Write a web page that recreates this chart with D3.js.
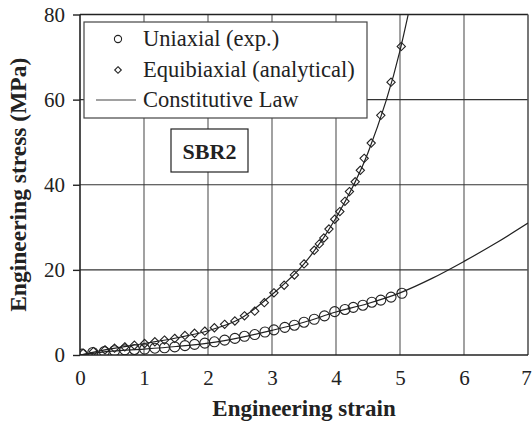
<!DOCTYPE html>
<html>
<head>
<meta charset="utf-8">
<script src="https://cdn.jsdelivr.net/npm/d3@7"></script>
</head>
<body style="margin:0">
<div id="chart"></div>
<script>
// uniaxial experiment (circles)
const uniStrain = [0.03, 0.2, 0.38, 0.54, 0.70, 0.85, 1.01, 1.17, 1.32, 1.48, 1.64, 1.79, 1.95, 2.10, 2.26, 2.42, 2.57, 2.73, 2.89, 3.03, 3.20, 3.35, 3.50, 3.66, 3.82, 3.98, 4.14, 4.27, 4.42, 4.56, 4.70, 4.86, 5.03];
const uniStress = [0.2, 0.6, 0.8, 1.0, 1.2, 1.3, 1.4, 1.6, 1.7, 1.9, 2.2, 2.5, 2.8, 3.1, 3.5, 3.9, 4.4, 4.8, 5.4, 5.9, 6.5, 7.0, 7.7, 8.4, 9.2, 10.2, 10.7, 11.2, 11.7, 12.4, 12.9, 13.6, 14.5];

// equibiaxial analytical (diamonds)
const biStrain = [0.05, 0.21, 0.39, 0.54, 0.70, 0.85, 1.01, 1.17, 1.32, 1.48, 1.64, 1.79, 1.95, 2.10, 2.26, 2.42, 2.57, 2.73, 2.88, 3.03, 3.19, 3.35, 3.50, 3.66, 3.74, 3.81, 3.89, 3.98, 4.06, 4.14, 4.21, 4.30, 4.38, 4.44, 4.55, 4.70, 4.86, 5.02];
const biStress = [0.4, 0.8, 1.2, 1.6, 1.9, 2.3, 2.7, 3.1, 3.5, 3.9, 4.6, 5.1, 5.6, 6.4, 7.2, 8.0, 9.2, 10.3, 12.3, 14.6, 16.4, 18.8, 21.4, 24.6, 26.1, 27.5, 29.6, 31.9, 33.7, 36.1, 38.4, 40.7, 43.4, 46.2, 49.8, 56.3, 64.1, 72.5];

// constitutive law curves
const lawUniStrain = [0, 0.5, 1, 1.5, 2, 2.5, 3, 3.5, 4, 4.5, 5, 5.5, 6, 6.5, 7];
const lawUniStress = [0, 0.9, 1.4, 2.0, 2.8, 4.1, 5.8, 7.7, 10.1, 12.1, 14.6, 18.0, 22.0, 26.3, 31.0];
const lawBiStrain = [0, 0.5, 1, 1.5, 2, 2.5, 3, 3.5, 4, 4.5, 5, 5.15];
const lawBiStress = [0, 1.5, 2.7, 4.0, 5.7, 8.5, 14.2, 21.4, 32.2, 47.5, 71.5, 81.5];

const xTicks = [0, 1, 2, 3, 4, 5, 6, 7];
const yTicks = [0, 20, 40, 60, 80];
const legendLabels = ['Uniaxial (exp.)', 'Equibiaxial (analytical)', 'Constitutive Law'];

const width = 532, height = 426;
const margin = { left: 80, right: 4, top: 14.5, bottom: 71 };
const pw = width - margin.left - margin.right;
const ph = height - margin.top - margin.bottom;

// serif text helper
const serifText = (sel, size, bold) => sel
  .attr('font-family', 'Liberation Serif')
  .style('font-family', '"Liberation Serif"')
  .attr('font-size', size)
  .attr('font-weight', bold ? 'bold' : 'normal')
  .attr('fill', '#222');

const svg = d3.select('#chart').append('svg')
  .attr('width', width)
  .attr('height', height);

const x = d3.scaleLinear().domain([0, 7]).range([margin.left, margin.left + pw]);
const y = d3.scaleLinear().domain([0, 80]).range([margin.top + ph, margin.top]);

svg.append('defs').append('clipPath').attr('id', 'plot-clip')
  .append('rect')
  .attr('x', margin.left).attr('y', margin.top)
  .attr('width', pw).attr('height', ph);

// Grid
svg.append('g')
  .selectAll('line')
  .data(xTicks.slice(1, -1))
  .join('line')
  .attr('x1', d => x(d)).attr('x2', d => x(d))
  .attr('y1', y(80)).attr('y2', y(0))
  .attr('stroke', '#7a7a7a').attr('stroke-width', 1.4);
svg.append('g')
  .selectAll('line')
  .data(yTicks.slice(1, -1))
  .join('line')
  .attr('x1', x(0)).attr('x2', x(7))
  .attr('y1', d => y(d)).attr('y2', d => y(d))
  .attr('stroke', '#333').attr('stroke-width', 1.2);

// Frame
svg.append('line')
  .attr('x1', x(0)).attr('x2', x(7)).attr('y1', y(80)).attr('y2', y(80))
  .attr('stroke', '#222').attr('stroke-width', 1.4);
svg.append('line')
  .attr('x1', x(7)).attr('x2', x(7)).attr('y1', y(80)).attr('y2', y(0))
  .attr('stroke', '#555').attr('stroke-width', 1.6);

// Axes
const yAxis = svg.append('g')
  .attr('transform', `translate(${x(0)},0)`)
  .call(d3.axisLeft(y).tickValues(yTicks).tickFormat(d3.format('d')).tickSize(7).tickPadding(8));
const xAxis = svg.append('g')
  .attr('transform', `translate(0,${y(0)})`)
  .call(d3.axisBottom(x).tickValues(xTicks).tickFormat(d3.format('d')).tickSize(0).tickPadding(15));
[xAxis, yAxis].forEach(a => {
  a.attr('font-family', null).attr('font-size', null);
  a.select('.domain').attr('stroke', '#222').attr('stroke-width', 1.6);
  a.selectAll('.tick line').attr('stroke', '#222').attr('stroke-width', 1.4);
  a.selectAll('.tick text').call(serifText, 21, false);
});
xAxis.select('.domain').attr('d', `M${x(0)},0H${x(7)}`);
yAxis.select('.domain').attr('d', `M0,${y(80)}V${y(0)}`);
// keep the last label inside the window
xAxis.selectAll('.tick text').filter(d => d === 7).attr('dx', -2);

// Axis titles
svg.append('text')
  .attr('x', x(3.5))
  .attr('y', 416)
  .attr('text-anchor', 'middle')
  .call(serifText, 23, true)
  .text('Engineering strain');
svg.append('text')
  .attr('transform', `translate(26,${y(40)}) rotate(-90)`)
  .attr('text-anchor', 'middle')
  .call(serifText, 23.5, true)
  .text('Engineering stress (MPa)');

// Curves
const plot = svg.append('g').attr('clip-path', 'url(#plot-clip)');
const line = d3.line()
  .x(d => x(d[0]))
  .y(d => y(d[1]))
  .curve(d3.curveMonotoneX);

plot.append('path')
  .datum(lawUniStrain.map((s, i) => [s, lawUniStress[i]]))
  .attr('d', line)
  .attr('fill', 'none').attr('stroke', '#222').attr('stroke-width', 1.2);
plot.append('path')
  .datum(lawBiStrain.map((s, i) => [s, lawBiStress[i]]))
  .attr('d', line)
  .attr('fill', 'none').attr('stroke', '#222').attr('stroke-width', 1.2);

// Markers
const diamond = d3.symbol().type(d3.symbolDiamond2).size(44);
plot.append('g')
  .selectAll('path')
  .data(biStrain.map((s, i) => [s, biStress[i]]))
  .join('path')
  .attr('d', diamond)
  .attr('transform', d => `translate(${x(d[0])},${y(d[1])})`)
  .attr('fill', 'none').attr('stroke', '#222').attr('stroke-width', 1.1);
plot.append('g')
  .selectAll('circle')
  .data(uniStrain.map((s, i) => [s, uniStress[i]]))
  .join('circle')
  .attr('cx', d => x(d[0]))
  .attr('cy', d => y(d[1]))
  .attr('r', 5)
  .attr('fill', 'none').attr('stroke', '#222').attr('stroke-width', 1.1);

// Legend
const lg = svg.append('g').attr('transform', 'translate(84,22)');
lg.append('rect')
  .attr('width', 283).attr('height', 96)
  .attr('fill', '#fff').attr('stroke', '#444').attr('stroke-width', 1.2);
lg.append('circle')
  .attr('cx', 34).attr('cy', 17).attr('r', 3.6)
  .attr('fill', 'none').attr('stroke', '#222').attr('stroke-width', 1.1);
lg.append('path')
  .attr('d', d3.symbol().type(d3.symbolDiamond2).size(28))
  .attr('transform', 'translate(34,48)')
  .attr('fill', 'none').attr('stroke', '#222').attr('stroke-width', 1.1);
lg.append('line')
  .attr('x1', 12).attr('x2', 52).attr('y1', 78).attr('y2', 78)
  .attr('stroke', '#444').attr('stroke-width', 1.2);
lg.selectAll('text.lbl')
  .data(legendLabels)
  .join('text')
  .attr('class', 'lbl')
  .attr('x', 59)
  .attr('y', (d, i) => 17 + i * 30.5)
  .attr('dy', '0.33em')
  .call(serifText, 22.5, false)
  .text(d => d);

// Sample tag
const tag = svg.append('g').attr('transform', 'translate(171,129)');
tag.append('rect')
  .attr('width', 77).attr('height', 43)
  .attr('fill', '#fff').attr('stroke', '#222').attr('stroke-width', 1.2);
tag.append('text')
  .attr('x', 38.5).attr('y', 22)
  .attr('dy', '0.35em')
  .attr('text-anchor', 'middle')
  .call(serifText, 22, true)
  .text('SBR2');
</script>
</body>
</html>
